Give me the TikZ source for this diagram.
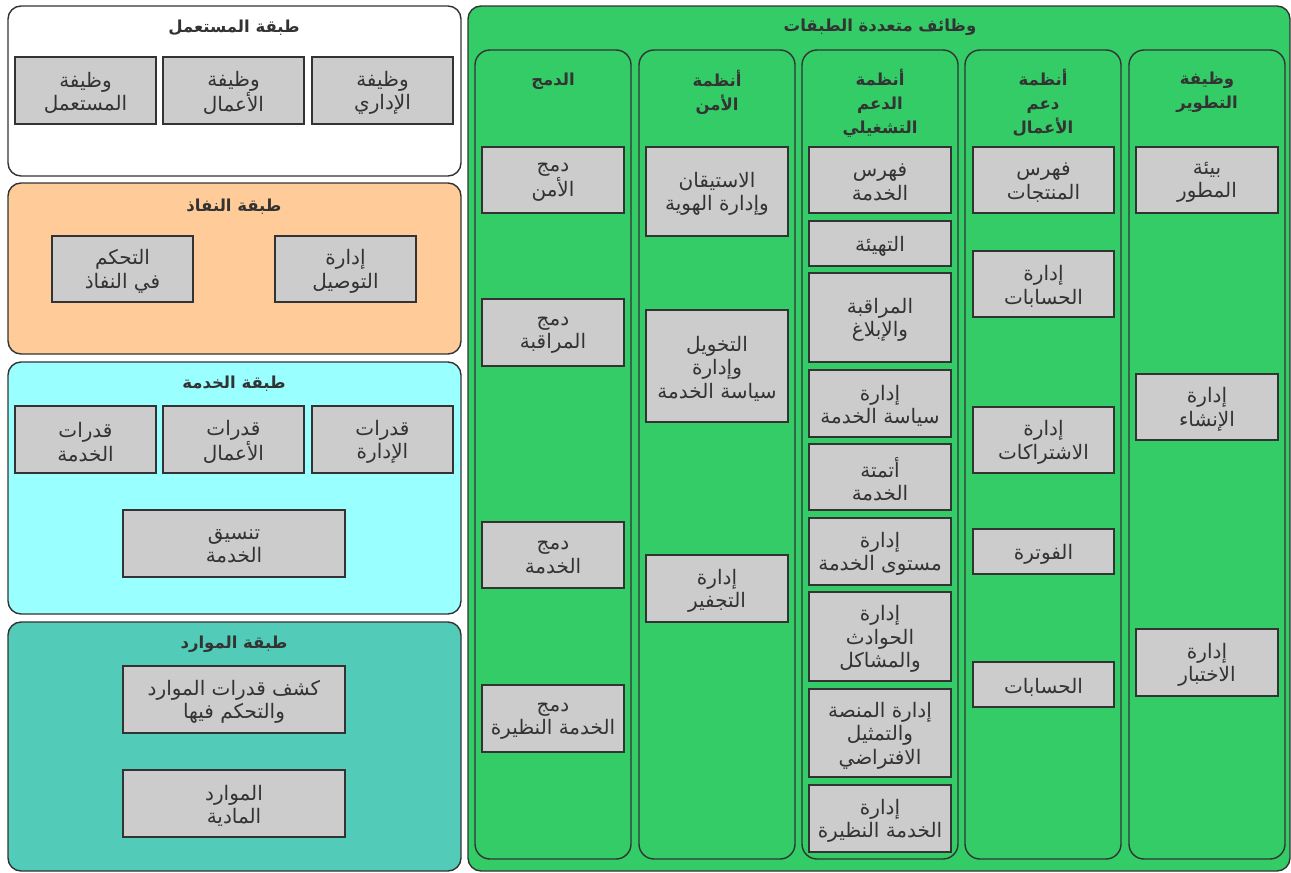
\documentclass[tikz,border=0pt]{standalone}
\usepackage{fontspec}
\newfontfamily\arabicfont[Script=Arabic]{DejaVu Sans}
\TeXXeTstate=1
% one right-to-left line of Arabic
\newcommand\ar[1]{\beginR #1\endR}

\definecolor{boxfill}{HTML}{CCCCCC}
\definecolor{edge}{HTML}{333333}
\definecolor{userfill}{HTML}{FFFFFF}
\definecolor{accfill}{HTML}{FFCC99}
\definecolor{svcfill}{HTML}{99FFFF}
\definecolor{resfill}{HTML}{52CCB8}
\definecolor{multifill}{HTML}{33CC66}

% gray function box given by its corners, with its label set slightly low
\newcommand\bx[6]{%
  \node[fbox, minimum width={#4-#2}, minimum height={#5-#3}] (#1) at ({(#2+#4)/2},{(#3+#5)/2}) {};
  \node[ftxt] (#1-txt) at ([yshift=-2.5pt]#1.center) {#6};}
% rounded container given by its corners
\newcommand\pn[7]{\node[panel, fill=#6, rounded corners=#7, minimum width={#4-#2}, minimum height={#5-#3}] (#1) at ({(#2+#4)/2},{(#3+#5)/2}) {};}

\begin{document}
\begin{tikzpicture}[x=1pt,y=-1pt,
  fbox/.style={draw=edge, line width=1.4pt, fill=boxfill, inner sep=0pt, outer sep=0pt},
  ftxt/.style={text=edge, align=center, inner sep=0pt,
    font=\arabicfont\fontsize{20}{23.5}\selectfont},
  panel/.style={draw=edge, line width=1.4pt, inner sep=0pt, outer sep=0pt, rectangle},
  ttl/.style={text=edge, align=center, inner sep=0pt,
    font=\arabicfont\bfseries\fontsize{16.5}{24}\selectfont}]

\useasboundingbox (0,0) rectangle (1291,873);

% ---------- user layer ----------
\pn{user}{8}{6}{461}{176}{userfill}{13pt}
\node[ttl] (userT) at (234,28) {\ar{طبقة المستعمل}};
\bx{userFn}{15}{57}{156}{124}{\ar{وظيفة}\\\ar{المستعمل}}
\bx{bizFn}{163}{57}{304}{124}{\ar{وظيفة}\\\ar{الأعمال}}
\bx{adminFn}{312}{57}{453}{124}{\ar{وظيفة}\\\ar{الإداري}}

% ---------- access layer ----------
\pn{acc}{8}{183}{461}{354}{accfill}{13pt}
\node[ttl] (accT) at (234,207) {\ar{طبقة النفاذ}};
\bx{accCtl}{52}{236}{193}{302}{\ar{التحكم}\\\ar{في النفاذ}}
\bx{connMgmt}{275}{236}{416}{302}{\ar{إدارة}\\\ar{التوصيل}}

% ---------- service layer ----------
\pn{svc}{8}{362}{461}{614}{svcfill}{13pt}
\node[ttl] (svcT) at (234,384) {\ar{طبقة الخدمة}};
\bx{svcCap}{15}{406}{156}{473}{\ar{قدرات}\\\ar{الخدمة}}
\bx{bizCap}{163}{406}{304}{473}{\ar{قدرات}\\\ar{الأعمال}}
\bx{admCap}{312}{406}{453}{473}{\ar{قدرات}\\\ar{الإدارة}}
\bx{svcOrch}{123}{510}{345}{577}{\ar{تنسيق}\\\ar{الخدمة}}

% ---------- resource layer ----------
\pn{res}{8}{622}{461}{871}{resfill}{13pt}
\node[ttl] (resT) at (234,644) {\ar{طبقة الموارد}};
\bx{resCtl}{123}{666}{345}{733}{\ar{كشف قدرات الموارد}\\\ar{والتحكم فيها}}
\bx{resPhys}{123}{770}{345}{837}{\ar{الموارد}\\\ar{المادية}}

% ---------- cross-layer functions ----------
\pn{multi}{468}{6}{1290}{871}{multifill}{13pt}
\node[ttl] (multiT) at (880,27) {\ar{وظائف متعددة الطبقات}};

\pn{colInt}{475}{50}{631}{859}{multifill}{15pt}
\pn{colSec}{639}{50}{795}{859}{multifill}{15pt}
\pn{colOps}{802}{50}{958}{859}{multifill}{15pt}
\pn{colBiz}{965}{50}{1121}{859}{multifill}{15pt}
\pn{colDev}{1129}{50}{1285}{859}{multifill}{15pt}

\node[ttl] (intT) at (553,81) {\ar{الدمج}};
\node[ttl] (secT) at (717,92) {\ar{أنظمة}\\\ar{الأمن}};
\node[ttl] (opsT) at (880,103) {\ar{أنظمة}\\\ar{الدعم}\\\ar{التشغيلي}};
\node[ttl] (bizT) at (1043,103) {\ar{أنظمة}\\\ar{دعم}\\\ar{الأعمال}};
\node[ttl] (devT) at (1207,92) {\ar{وظيفة}\\\ar{التطوير}};

% integration
\bx{intSec}{482}{147}{624}{213}{\ar{دمج}\\\ar{الأمن}}
\bx{intMon}{482}{299}{624}{366}{\ar{دمج}\\\ar{المراقبة}}
\bx{intSvc}{482}{522}{624}{588}{\ar{دمج}\\\ar{الخدمة}}
\bx{intPeer}{482}{685}{624}{752}{\ar{دمج}\\\ar{الخدمة النظيرة}}

% security systems
\bx{secIdm}{646}{147}{788}{236}{\ar{الاستيقان}\\\ar{وإدارة الهوية}}
\bx{secAuthz}{646}{310}{788}{422}{\ar{التخويل}\\\ar{وإدارة}\\\ar{سياسة الخدمة}}
\bx{secCrypt}{646}{555}{788}{622}{\ar{إدارة}\\\ar{التجفير}}

% operational support systems
\bx{opsCat}{809}{147}{951}{213}{\ar{فهرس}\\\ar{الخدمة}}
\bx{opsProv}{809}{221}{951}{266}{\ar{التهيئة}}
\bx{opsMon}{809}{273}{951}{362}{\ar{المراقبة}\\\ar{والإبلاغ}}
\bx{opsPol}{809}{370}{951}{437}{\ar{إدارة}\\\ar{سياسة الخدمة}}
\bx{opsAuto}{809}{444}{951}{510}{\ar{أتمتة}\\\ar{الخدمة}}
\bx{opsSla}{809}{518}{951}{585}{\ar{إدارة}\\\ar{مستوى الخدمة}}
\bx{opsInc}{809}{592}{951}{681}{\ar{إدارة}\\\ar{الحوادث}\\\ar{والمشاكل}}
\bx{opsVirt}{809}{689}{951}{777}{\ar{إدارة المنصة}\\\ar{والتمثيل}\\\ar{الافتراضي}}
\bx{opsPeer}{809}{785}{951}{852}{\ar{إدارة}\\\ar{الخدمة النظيرة}}

% business support systems
\bx{bizCat}{973}{147}{1114}{213}{\ar{فهرس}\\\ar{المنتجات}}
\bx{bizAcct}{973}{251}{1114}{317}{\ar{إدارة}\\\ar{الحسابات}}
\bx{bizSub}{973}{407}{1114}{473}{\ar{إدارة}\\\ar{الاشتراكات}}
\bx{bizBill}{973}{529}{1114}{574}{\ar{الفوترة}}
\bx{bizAccts}{973}{662}{1114}{707}{\ar{الحسابات}}

% development function
\bx{devEnv}{1136}{147}{1278}{213}{\ar{بيئة}\\\ar{المطور}}
\bx{devBuild}{1136}{374}{1278}{440}{\ar{إدارة}\\\ar{الإنشاء}}
\bx{devTest}{1136}{629}{1278}{696}{\ar{إدارة}\\\ar{الاختبار}}

\end{tikzpicture}
\end{document}
